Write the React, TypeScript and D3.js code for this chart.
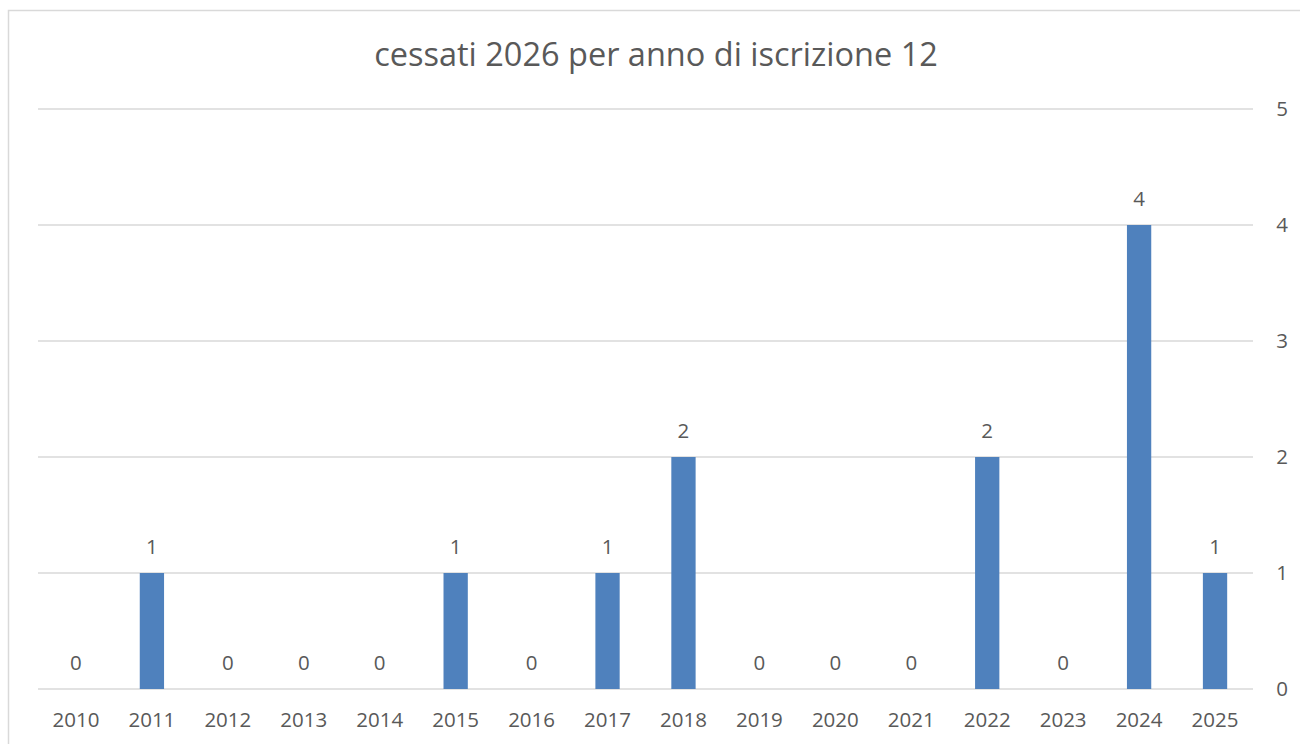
import { useRef, useEffect } from 'react';
import * as d3 from 'd3';

const years = ['2010', '2011', '2012', '2013', '2014', '2015', '2016', '2017', '2018', '2019', '2020', '2021', '2022', '2023', '2024', '2025'];
const counts = [0, 1, 0, 0, 0, 1, 0, 1, 2, 0, 0, 0, 2, 0, 4, 1];
const yTicks = [0, 1, 2, 3, 4, 5];
const title = 'cessati 2026 per anno di iscrizione 12';

const W = 1300;
const H = 744;
const font = '"Open Sans", "Noto Sans", sans-serif';
const textColor = '#595959';

const App = () => {
  const svgRef = useRef<SVGSVGElement>(null);

  useEffect(() => {
    const svg = d3.select(svgRef.current);
    svg.selectAll('*').remove();

    const left = 38;
    const right = 1253;
    const top = 109;
    const bottom = 689;

    const x = d3.scaleBand().domain(years).range([left, right]).paddingInner(0.68).paddingOuter(0.34);
    const y = d3.scaleLinear().domain([0, 5]).range([bottom, top]);

    // chart frame, runs off the right and bottom of the picture
    svg.append('rect')
      .attr('x', 8.5).attr('y', 10.5)
      .attr('width', W + 20).attr('height', H + 20)
      .attr('fill', '#fff').attr('stroke', '#d9d9d9').attr('stroke-width', 1.5);

    svg.append('text')
      .attr('x', 656).attr('y', 66)
      .attr('text-anchor', 'middle')
      .attr('font-family', font).attr('font-size', 32.5)
      .attr('fill', textColor)
      .text(title);

    // gridlines
    svg.append('g').selectAll('line').data(yTicks).join('line')
      .attr('x1', left).attr('x2', right)
      .attr('y1', (d) => y(d)).attr('y2', (d) => y(d))
      .attr('stroke', '#d9d9d9').attr('stroke-width', 1.5);

    // right value axis
    svg.append('g').selectAll('text').data(yTicks).join('text')
      .attr('x', right + 29).attr('y', (d) => y(d))
      .attr('dy', '0.35em')
      .attr('text-anchor', 'middle')
      .attr('font-family', font).attr('font-size', 20.5)
      .attr('fill', textColor)
      .text((d) => d);

    // category labels
    svg.append('g').selectAll('text').data(years).join('text')
      .attr('x', (d) => x(d)! + x.bandwidth() / 2).attr('y', 720)
      .attr('dy', '0.35em')
      .attr('text-anchor', 'middle')
      .attr('font-family', font).attr('font-size', 20.5)
      .attr('fill', textColor)
      .text((d) => d);

    // bars
    svg.append('g').selectAll('rect').data(counts).join('rect')
      .attr('x', (d, i) => x(years[i])!)
      .attr('y', (d) => y(d))
      .attr('width', x.bandwidth())
      .attr('height', (d) => y(0) - y(d))
      .attr('fill', '#4f81bd');

    // data labels
    svg.append('g').selectAll('text').data(counts).join('text')
      .attr('x', (d, i) => x(years[i])! + x.bandwidth() / 2)
      .attr('y', (d) => y(d) - 26)
      .attr('dy', '0.35em')
      .attr('text-anchor', 'middle')
      .attr('font-family', font).attr('font-size', 20.5)
      .attr('fill', textColor)
      .text((d) => d);
  }, []);

  return (
    <svg
      ref={svgRef}
      width={W}
      height={H}
      style={{ position: 'absolute', left: 0, top: 0, display: 'block' }}
    ></svg>
  );
};

export default App;
